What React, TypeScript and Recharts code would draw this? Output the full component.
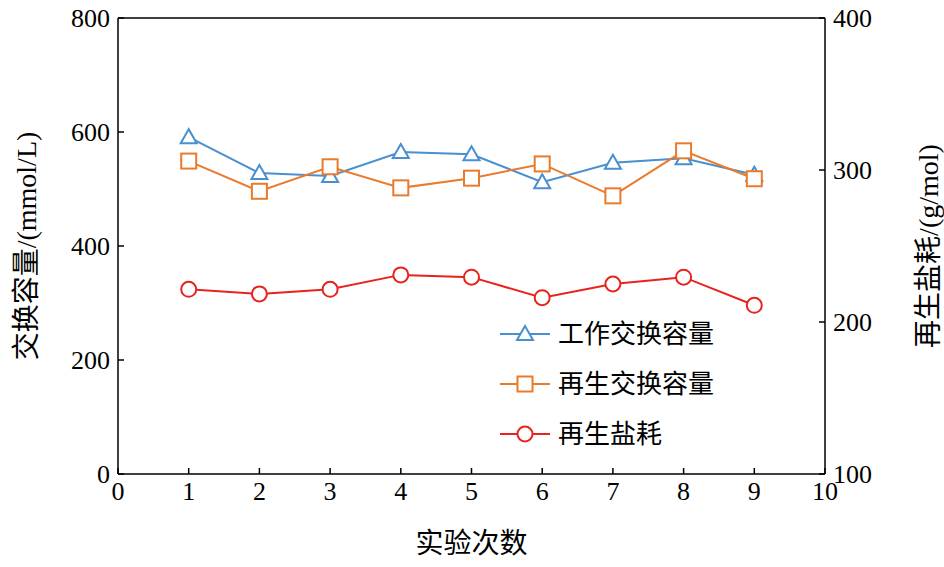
import { ComposedChart, Line, XAxis, YAxis, ReferenceLine } from 'recharts';

const runs = [1, 2, 3, 4, 5, 6, 7, 8, 9];
const workCapacity = [591, 528, 523, 565, 561, 512, 546, 554, 525];
const regenCapacity = [549, 496, 539, 502, 519, 544, 488, 567, 518];
const saltUse = [221.5, 218.5, 221.5, 231, 229.5, 216, 225, 229.5, 211];
const xTicks = [0, 1, 2, 3, 4, 5, 6, 7, 8, 9, 10];
const leftTicks = [0, 200, 400, 600, 800];
const rightTicks = [100, 200, 300, 400];

const data = runs.map((r, i) => ({
  run: r,
  work: workCapacity[i],
  regen: regenCapacity[i],
  salt: saltUse[i],
}));

const FONT = '"Liberation Serif", "Noto Sans CJK SC", serif';
const BLUE = '#4a8fcf';
const ORANGE = '#ea7a2c';
const RED = '#e8231e';

const Tri = (p: any) => {
  const { cx, cy } = p;
  if (cx == null) return null;
  const s = 8;
  return (
    <polygon
      points={`${cx},${cy - s} ${cx - s},${cy + s * 0.75} ${cx + s},${cy + s * 0.75}`}
      fill="#fff" stroke={BLUE} strokeWidth={2}
    />
  );
};
const Sq = (p: any) => {
  const { cx, cy } = p;
  if (cx == null) return null;
  return <rect x={cx - 7.5} y={cy - 7.5} width={15} height={15} fill="#fff" stroke={ORANGE} strokeWidth={2} />;
};
const Circ = (p: any) => {
  const { cx, cy } = p;
  if (cx == null) return null;
  return <circle cx={cx} cy={cy} r={7.5} fill="#fff" stroke={RED} strokeWidth={2} />;
};

const legendItems = [
  { name: '工作交换容量', color: BLUE, Mark: Tri },
  { name: '再生交换容量', color: ORANGE, Mark: Sq },
  { name: '再生盐耗', color: RED, Mark: Circ },
];

const LegendBox = () => (
  <svg width={280} height={130} style={{ position: 'absolute', left: 498, top: 318 }}>
    {legendItems.map((it, i) => {
      const y = 16 + i * 50;
      return (
        <g key={it.name}>
          <line x1={2} x2={52} y1={y} y2={y} stroke={it.color} strokeWidth={2} />
          <it.Mark cx={27} cy={y} />
          <text x={60} y={y + 9} fontSize={26} fontFamily={FONT} fill="#000">{it.name}</text>
        </g>
      );
    })}
  </svg>
);

export default function App() {
  const tick = { fontSize: 26, fontFamily: FONT, fill: '#000' };
  return (
    <div style={{ position: 'absolute', left: 0, top: 0, width: 944, height: 567, background: '#fff' }}>
      <ComposedChart width={944} height={567} data={data} margin={{ top: 18, right: 0, bottom: 0, left: 0 }}>
        <XAxis
          dataKey="run" type="number" domain={[0, 10]} ticks={xTicks} height={93}
          tick={tick} tickSize={-6} tickMargin={14} stroke="#000" strokeWidth={1.5}
          label={{ value: '实验次数', position: 'insideBottom', offset: 14, style: { fontSize: 28, fontFamily: FONT, fill: '#000' } }}
        />
        <YAxis
          yAxisId="left" domain={[0, 800]} ticks={leftTicks} width={118}
          tick={tick} tickSize={-6} tickMargin={14} stroke="#000" strokeWidth={1.5}
          label={{ value: '交换容量/(mmol/L)', angle: -90, position: 'insideLeft', offset: 26, style: { fontSize: 28, fontFamily: FONT, fill: '#000', textAnchor: 'middle' } }}
        />
        <YAxis
          yAxisId="right" orientation="right" domain={[100, 400]} ticks={rightTicks} width={119}
          tick={tick} tickSize={-6} tickMargin={14} stroke="#000" strokeWidth={1.5}
          label={{ value: '再生盐耗/(g/mol)', angle: -90, position: 'insideRight', offset: 16, dy: 0, style: { fontSize: 28, fontFamily: FONT, fill: '#000', textAnchor: 'middle' } }}
        />
        <ReferenceLine yAxisId="left" y={800} stroke="#000" strokeWidth={1.5} />
        <Line yAxisId="left" dataKey="work" stroke={BLUE} strokeWidth={2} dot={<Tri />} isAnimationActive={false} />
        <Line yAxisId="left" dataKey="regen" stroke={ORANGE} strokeWidth={2} dot={<Sq />} isAnimationActive={false} />
        <Line yAxisId="right" dataKey="salt" stroke={RED} strokeWidth={2} dot={<Circ />} isAnimationActive={false} />
      </ComposedChart>
      <LegendBox />
    </div>
  );
}
